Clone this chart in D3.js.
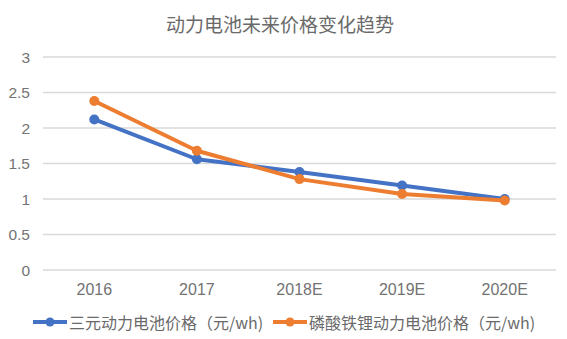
<!DOCTYPE html>
<html><head><meta charset="utf-8">
<script src="https://cdn.jsdelivr.net/npm/d3@7"></script>
<style>body{margin:0;background:#fff}svg{display:block}text{font-family:"Noto Sans CJK SC","Noto Sans",sans-serif}.num{font-family:"Liberation Sans",Arial,sans-serif}</style>
</head><body>
<script>
const categories = ["2016","2017","2018E","2019E","2020E"];
const ternary = [2.12,1.56,1.38,1.19,1.0];
const lfp = [2.38,1.68,1.28,1.07,0.98];
const yTicks = [0,0.5,1,1.5,2,2.5,3];
const seriesNames = ["三元动力电池价格（元/wh)","磷酸铁锂动力电池价格（元/wh)"];
const colors = ["#4472C4","#ED7D31"];
const title = "动力电池未来价格变化趋势";

const W=567,H=339;
const svg=d3.select("body").append("svg").attr("width",W).attr("height",H);
const x=d3.scaleBand().domain(categories).range([43,556]).padding(0);
const y=d3.scaleLinear().domain([0,3]).range([270,57]);

svg.append("text").attr("x",280).attr("y",23).attr("text-anchor","middle")
  .attr("dominant-baseline","central").attr("font-size",19).attr("fill","#6a6a6a").text(title);

svg.append("g").selectAll("line").data(yTicks).join("line")
  .attr("x1",43).attr("x2",556).attr("y1",d=>y(d)).attr("y2",d=>y(d))
  .attr("stroke","#d9d9d9").attr("stroke-width",1.3);
svg.append("g").selectAll("text").data(yTicks).join("text").attr("class","num")
  .attr("x",30).attr("y",d=>y(d)).attr("text-anchor","end").attr("dominant-baseline","central")
  .attr("font-size",15.5).attr("fill","#737373").text(d=>d);
svg.append("g").selectAll("text").data(categories).join("text").attr("class","num")
  .attr("x",d=>x(d)+x.bandwidth()/2).attr("y",289).attr("text-anchor","middle").attr("dominant-baseline","central")
  .attr("font-size",16).attr("fill","#737373").text(d=>d);

const series=[ternary,lfp];
const line=d3.line().x((d,i)=>x(categories[i])+x.bandwidth()/2).y(d=>y(d));
[0,1].forEach(k=>{
  const g=svg.append("g");
  g.append("path").datum(series[k]).attr("d",line).attr("fill","none").attr("stroke",colors[k])
   .attr("stroke-width",4).attr("stroke-linejoin","round").attr("stroke-linecap","round");
  g.selectAll("circle").data(series[k]).join("circle")
   .attr("cx",(d,i)=>x(categories[i])+x.bandwidth()/2).attr("cy",d=>y(d)).attr("r",5).attr("fill",colors[k]);
});

const legX=[33,273];
[0,1].forEach(k=>{
  const g=svg.append("g").attr("transform",`translate(${legX[k]},322)`);
  g.append("line").attr("x1",0).attr("x2",34).attr("stroke",colors[k]).attr("stroke-width",4);
  g.append("circle").attr("cx",17).attr("r",4.5).attr("fill",colors[k]);
  g.append("text").attr("x",36).attr("dominant-baseline","central").attr("font-size",16)
   .attr("fill","#6a6a6a").text(seriesNames[k]);
});
</script>
</body></html>
